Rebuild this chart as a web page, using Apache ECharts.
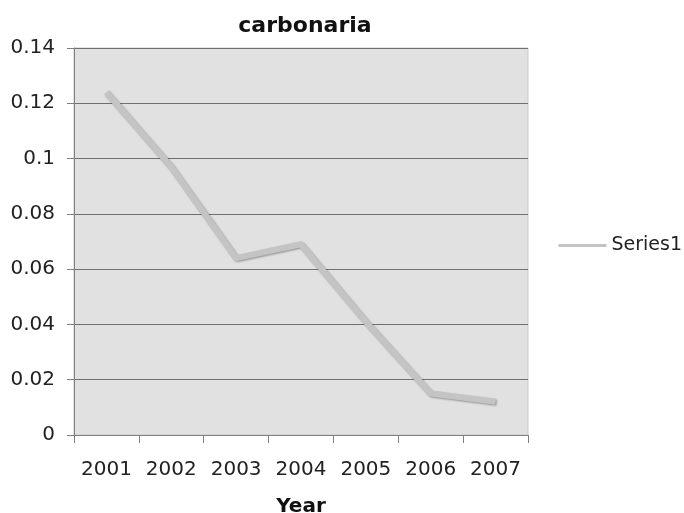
<!DOCTYPE html>
<html>
<head>
<meta charset="utf-8">
<script src="https://cdn.jsdelivr.net/npm/echarts@6/dist/echarts.min.js"></script>
<style>
  html, body { margin: 0; padding: 0; background: #ffffff; }
  #chart { width: 684px; height: 513px; }
</style>
</head>
<body>
<div id="chart"></div>
<script>
// Annual values for carbonaria, 2001-2007
const years = ['2001', '2002', '2003', '2004', '2005', '2006', '2007'];
const series1 = [0.124, 0.097, 0.064, 0.069, 0.041, 0.015, 0.012];
const yTicks = [0, 0.02, 0.04, 0.06, 0.08, 0.1, 0.12, 0.14];

const FONT = '"DejaVu Sans", Verdana, sans-serif';
const chart = echarts.init(document.getElementById('chart'), null, { renderer: 'canvas' });

chart.setOption({
  backgroundColor: '#ffffff',
  animation: false,
  title: {
    text: 'carbonaria',
    left: 300,
    top: 10,
    textAlign: 'center',
    textStyle: { fontFamily: FONT, fontWeight: 'bold', fontSize: 22, color: '#111' }
  },
  legend: {
    left: 552,
    top: 231,
    itemWidth: 48,
    itemHeight: 20,
    data: ['Series1'],
    textStyle: { fontFamily: FONT, fontSize: 19, color: '#222' },
    lineStyle: { width: 3, color: '#c4c4c4', shadowBlur: 0, shadowOffsetX: 0, shadowOffsetY: 0 },
    itemStyle: { opacity: 0 }
  },
  grid: {
    left: 74,
    right: 156,
    top: 48,
    bottom: 78,
    containLabel: false,
    outerBoundsMode: 'none',
    show: true,
    backgroundColor: '#e1e1e1',
    borderColor: '#c8c8c8',
    borderWidth: 1
  },
  xAxis: {
    type: 'category',
    data: years,
    boundaryGap: true,
    name: 'Year',
    nameLocation: 'middle',
    nameGap: 62,
    nameTextStyle: { fontFamily: FONT, fontWeight: 'bold', fontSize: 20, color: '#111' },
    axisLine: { lineStyle: { color: '#808080', width: 1 } },
    axisTick: { show: true, length: 8, interval: 0, alignWithLabel: false, lineStyle: { color: '#808080' } },
    axisLabel: { fontFamily: FONT, fontSize: 20, color: '#222', margin: 25, interval: 0, hideOverlap: false },
    splitLine: { show: false }
  },
  yAxis: {
    type: 'value',
    min: yTicks[0],
    max: yTicks[yTicks.length - 1],
    interval: yTicks[1] - yTicks[0],
    axisLine: { show: true, lineStyle: { color: '#808080', width: 1 } },
    axisTick: { show: true, length: 7, inside: false, lineStyle: { color: '#808080' } },
    axisLabel: {
      fontFamily: FONT, fontSize: 20, color: '#222', margin: 19,
      formatter: v => String(+v.toFixed(2))
    },
    splitLine: { show: true, lineStyle: { color: '#707070', width: 1 } }
  },
  series: [{
    name: 'Series1',
    type: 'line',
    data: series1,
    symbol: 'none',
    lineStyle: {
      color: '#c4c4c4',
      width: 6,
      shadowColor: 'rgba(0,0,0,0.35)',
      shadowBlur: 2,
      shadowOffsetX: 1,
      shadowOffsetY: 1
    },
    itemStyle: { color: '#c4c4c4' }
  }]
});
</script>
</body>
</html>
